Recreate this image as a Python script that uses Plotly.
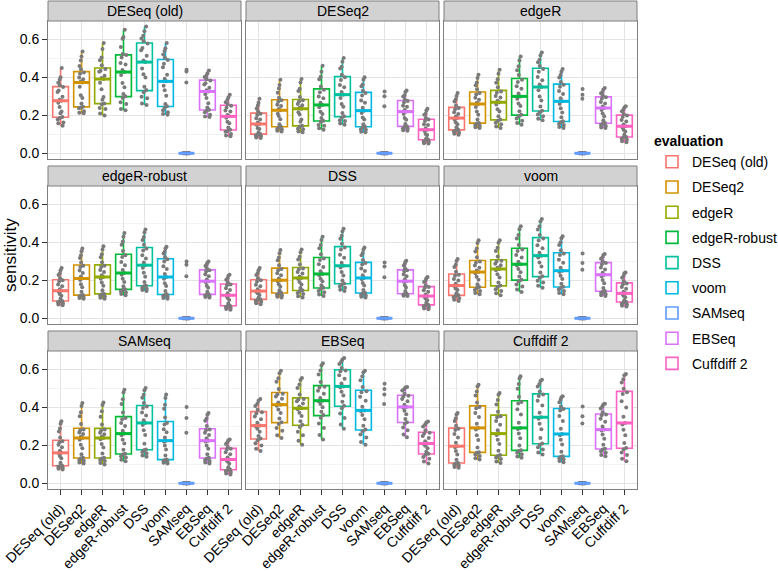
import plotly.graph_objects as go
import numpy as np

methods = ["DESeq (old)", "DESeq2", "edgeR", "edgeR-robust", "DSS", "voom", "SAMseq", "EBSeq", "Cuffdiff 2"]
colors = ["#F8766D", "#D39200", "#93AA00", "#00BA38", "#00C19F", "#00B9E3", "#619CFF", "#DB72FB", "#FF61C3"]
panel_titles = ["DESeq (old)", "DESeq2", "edgeR", "edgeR-robust", "DSS", "voom", "SAMseq", "EBSeq", "Cuffdiff 2"]
y_ticks = [0.0, 0.2, 0.4, 0.6]
y_minor = [0.1, 0.3, 0.5]

# sensitivity values per panel (evaluation dataset), one list per method
deseq_old = [
    [0.145, 0.158, 0.162, 0.177, 0.186, 0.190, 0.211, 0.219, 0.243, 0.266, 0.276, 0.281, 0.297, 0.322, 0.330, 0.348, 0.357, 0.371, 0.386, 0.399, 0.448],
    [0.210, 0.213, 0.221, 0.236, 0.240, 0.245, 0.262, 0.291, 0.305, 0.349, 0.372, 0.377, 0.389, 0.398, 0.418, 0.425, 0.441, 0.459, 0.487, 0.508, 0.535],
    [0.198, 0.209, 0.233, 0.238, 0.257, 0.262, 0.281, 0.296, 0.337, 0.371, 0.390, 0.396, 0.408, 0.429, 0.434, 0.443, 0.462, 0.489, 0.503, 0.548, 0.580],
    [0.226, 0.233, 0.259, 0.268, 0.291, 0.300, 0.311, 0.347, 0.369, 0.411, 0.427, 0.438, 0.466, 0.474, 0.503, 0.516, 0.521, 0.559, 0.602, 0.611, 0.649],
    [0.254, 0.262, 0.289, 0.297, 0.321, 0.332, 0.349, 0.398, 0.415, 0.446, 0.479, 0.488, 0.512, 0.541, 0.553, 0.577, 0.588, 0.603, 0.618, 0.641, 0.666],
    [0.203, 0.207, 0.215, 0.226, 0.241, 0.247, 0.259, 0.302, 0.331, 0.355, 0.378, 0.392, 0.413, 0.452, 0.471, 0.490, 0.502, 0.519, 0.537, 0.552, 0.579],
    [0, 0, 0, 0, 0, 0, 0, 0, 0, 0, 0, 0, 0, 0, 0, 0, 0, 0, 0.372, 0.430, 0.439],
    [0.190, 0.193, 0.202, 0.216, 0.224, 0.229, 0.241, 0.263, 0.291, 0.310, 0.325, 0.331, 0.344, 0.362, 0.368, 0.383, 0.389, 0.401, 0.408, 0.419, 0.435],
    [0.089, 0.094, 0.101, 0.113, 0.117, 0.124, 0.135, 0.158, 0.166, 0.187, 0.194, 0.201, 0.219, 0.225, 0.241, 0.250, 0.259, 0.268, 0.281, 0.293, 0.308],
]
deseq2 = [
    [0.080, 0.083, 0.091, 0.094, 0.099, 0.101, 0.109, 0.127, 0.131, 0.148, 0.154, 0.162, 0.178, 0.184, 0.201, 0.208, 0.219, 0.235, 0.251, 0.266, 0.287],
    [0.115, 0.118, 0.126, 0.128, 0.137, 0.140, 0.152, 0.179, 0.196, 0.208, 0.226, 0.233, 0.249, 0.255, 0.271, 0.278, 0.292, 0.318, 0.341, 0.359, 0.387],
    [0.110, 0.114, 0.126, 0.129, 0.141, 0.145, 0.166, 0.178, 0.204, 0.215, 0.234, 0.239, 0.253, 0.259, 0.272, 0.278, 0.296, 0.327, 0.339, 0.372, 0.390],
    [0.124, 0.131, 0.145, 0.149, 0.166, 0.171, 0.185, 0.207, 0.218, 0.242, 0.254, 0.266, 0.289, 0.298, 0.321, 0.334, 0.351, 0.389, 0.402, 0.428, 0.460],
    [0.150, 0.156, 0.169, 0.173, 0.188, 0.194, 0.212, 0.245, 0.259, 0.291, 0.308, 0.322, 0.347, 0.359, 0.385, 0.400, 0.412, 0.446, 0.455, 0.481, 0.500],
    [0.110, 0.113, 0.124, 0.126, 0.137, 0.140, 0.153, 0.178, 0.188, 0.212, 0.224, 0.239, 0.266, 0.277, 0.303, 0.317, 0.329, 0.352, 0.361, 0.386, 0.399],
    [0, 0, 0, 0, 0, 0, 0, 0, 0, 0, 0, 0, 0, 0, 0, 0, 0, 0, 0.247, 0.300, 0.325],
    [0.119, 0.121, 0.130, 0.131, 0.139, 0.142, 0.154, 0.176, 0.185, 0.207, 0.219, 0.227, 0.244, 0.250, 0.267, 0.275, 0.283, 0.299, 0.305, 0.322, 0.330],
    [0.051, 0.053, 0.061, 0.062, 0.070, 0.072, 0.079, 0.096, 0.101, 0.117, 0.124, 0.131, 0.149, 0.153, 0.169, 0.177, 0.185, 0.203, 0.208, 0.225, 0.234],
]
edger = [
    [0.098, 0.102, 0.109, 0.114, 0.121, 0.124, 0.137, 0.152, 0.163, 0.178, 0.185, 0.193, 0.207, 0.216, 0.231, 0.238, 0.251, 0.272, 0.284, 0.301, 0.317],
    [0.133, 0.137, 0.145, 0.149, 0.156, 0.159, 0.177, 0.202, 0.219, 0.243, 0.259, 0.266, 0.281, 0.292, 0.309, 0.317, 0.336, 0.358, 0.372, 0.396, 0.413],
    [0.133, 0.141, 0.152, 0.160, 0.171, 0.177, 0.194, 0.219, 0.232, 0.256, 0.268, 0.276, 0.293, 0.301, 0.318, 0.325, 0.347, 0.371, 0.389, 0.418, 0.439],
    [0.150, 0.159, 0.171, 0.183, 0.194, 0.203, 0.221, 0.248, 0.262, 0.286, 0.299, 0.314, 0.339, 0.352, 0.374, 0.387, 0.411, 0.436, 0.457, 0.488, 0.509],
    [0.173, 0.181, 0.194, 0.204, 0.216, 0.224, 0.246, 0.277, 0.298, 0.331, 0.348, 0.362, 0.384, 0.401, 0.428, 0.443, 0.459, 0.478, 0.492, 0.514, 0.530],
    [0.133, 0.138, 0.148, 0.154, 0.163, 0.168, 0.189, 0.214, 0.236, 0.259, 0.273, 0.289, 0.311, 0.327, 0.349, 0.360, 0.374, 0.398, 0.411, 0.429, 0.443],
    [0, 0, 0, 0, 0, 0, 0, 0, 0, 0, 0, 0, 0, 0, 0, 0, 0, 0, 0.287, 0.308, 0.338],
    [0.133, 0.136, 0.144, 0.148, 0.155, 0.159, 0.173, 0.194, 0.209, 0.227, 0.238, 0.246, 0.261, 0.270, 0.286, 0.294, 0.303, 0.316, 0.322, 0.335, 0.343],
    [0.058, 0.063, 0.071, 0.076, 0.083, 0.086, 0.098, 0.115, 0.124, 0.137, 0.142, 0.151, 0.167, 0.175, 0.191, 0.198, 0.207, 0.221, 0.229, 0.240, 0.247],
]
edger_robust = [
    [0.069, 0.073, 0.079, 0.084, 0.089, 0.091, 0.103, 0.119, 0.128, 0.140, 0.145, 0.153, 0.168, 0.177, 0.193, 0.200, 0.211, 0.227, 0.236, 0.252, 0.264],
    [0.103, 0.106, 0.112, 0.115, 0.120, 0.122, 0.139, 0.163, 0.179, 0.201, 0.209, 0.219, 0.238, 0.251, 0.269, 0.276, 0.293, 0.317, 0.331, 0.352, 0.367],
    [0.103, 0.108, 0.116, 0.120, 0.126, 0.129, 0.147, 0.171, 0.188, 0.208, 0.217, 0.226, 0.243, 0.254, 0.269, 0.276, 0.295, 0.321, 0.337, 0.361, 0.379],
    [0.121, 0.127, 0.136, 0.142, 0.149, 0.153, 0.168, 0.191, 0.208, 0.229, 0.238, 0.254, 0.279, 0.296, 0.322, 0.331, 0.354, 0.386, 0.403, 0.429, 0.448],
    [0.143, 0.148, 0.155, 0.161, 0.168, 0.172, 0.191, 0.218, 0.239, 0.266, 0.279, 0.293, 0.314, 0.331, 0.356, 0.367, 0.386, 0.411, 0.427, 0.451, 0.466],
    [0.103, 0.107, 0.114, 0.118, 0.123, 0.126, 0.143, 0.169, 0.184, 0.208, 0.217, 0.233, 0.259, 0.274, 0.299, 0.310, 0.322, 0.341, 0.349, 0.366, 0.376],
    [0, 0, 0, 0, 0, 0, 0, 0, 0, 0, 0, 0, 0, 0, 0, 0, 0, 0, 0.221, 0.281, 0.298],
    [0.109, 0.112, 0.117, 0.120, 0.124, 0.126, 0.139, 0.160, 0.171, 0.189, 0.195, 0.204, 0.221, 0.231, 0.246, 0.252, 0.261, 0.275, 0.282, 0.292, 0.298],
    [0.045, 0.049, 0.056, 0.059, 0.064, 0.066, 0.078, 0.096, 0.106, 0.117, 0.121, 0.131, 0.148, 0.158, 0.173, 0.178, 0.188, 0.203, 0.211, 0.223, 0.229],
]
dss = [
    [0.074, 0.079, 0.087, 0.091, 0.097, 0.100, 0.108, 0.122, 0.131, 0.140, 0.143, 0.152, 0.168, 0.176, 0.193, 0.200, 0.211, 0.228, 0.238, 0.253, 0.264],
    [0.109, 0.113, 0.121, 0.124, 0.131, 0.134, 0.147, 0.166, 0.179, 0.194, 0.200, 0.209, 0.226, 0.236, 0.252, 0.259, 0.278, 0.305, 0.319, 0.342, 0.359],
    [0.109, 0.116, 0.127, 0.133, 0.142, 0.147, 0.159, 0.178, 0.191, 0.206, 0.212, 0.219, 0.235, 0.243, 0.257, 0.262, 0.282, 0.309, 0.323, 0.347, 0.362],
    [0.117, 0.125, 0.137, 0.144, 0.155, 0.160, 0.173, 0.194, 0.208, 0.226, 0.233, 0.247, 0.270, 0.284, 0.306, 0.314, 0.337, 0.368, 0.385, 0.411, 0.428],
    [0.143, 0.150, 0.161, 0.168, 0.178, 0.183, 0.199, 0.225, 0.243, 0.267, 0.276, 0.292, 0.318, 0.334, 0.361, 0.372, 0.391, 0.418, 0.433, 0.456, 0.471],
    [0.109, 0.113, 0.120, 0.124, 0.131, 0.134, 0.149, 0.172, 0.186, 0.205, 0.212, 0.226, 0.248, 0.262, 0.283, 0.290, 0.306, 0.331, 0.343, 0.362, 0.372],
    [0, 0, 0, 0, 0, 0, 0, 0, 0, 0, 0, 0, 0, 0, 0, 0, 0, 0, 0.216, 0.272, 0.293],
    [0.117, 0.119, 0.123, 0.125, 0.128, 0.129, 0.143, 0.162, 0.174, 0.190, 0.195, 0.205, 0.221, 0.232, 0.247, 0.252, 0.262, 0.277, 0.286, 0.297, 0.302],
    [0.048, 0.052, 0.059, 0.063, 0.069, 0.071, 0.081, 0.095, 0.104, 0.114, 0.117, 0.125, 0.139, 0.147, 0.160, 0.164, 0.174, 0.190, 0.199, 0.211, 0.217],
]
voom = [
    [0.091, 0.097, 0.105, 0.111, 0.118, 0.121, 0.131, 0.148, 0.157, 0.169, 0.172, 0.181, 0.198, 0.207, 0.223, 0.229, 0.245, 0.269, 0.281, 0.301, 0.312],
    [0.126, 0.133, 0.143, 0.149, 0.159, 0.164, 0.179, 0.203, 0.218, 0.237, 0.243, 0.251, 0.266, 0.277, 0.292, 0.298, 0.321, 0.351, 0.367, 0.396, 0.410],
    [0.121, 0.131, 0.144, 0.153, 0.166, 0.172, 0.188, 0.214, 0.231, 0.252, 0.259, 0.266, 0.278, 0.286, 0.298, 0.302, 0.325, 0.353, 0.371, 0.397, 0.410],
    [0.138, 0.151, 0.167, 0.178, 0.194, 0.203, 0.219, 0.242, 0.259, 0.277, 0.284, 0.297, 0.319, 0.333, 0.354, 0.362, 0.385, 0.419, 0.437, 0.468, 0.483],
    [0.160, 0.171, 0.188, 0.197, 0.213, 0.221, 0.241, 0.272, 0.293, 0.319, 0.329, 0.344, 0.368, 0.384, 0.409, 0.419, 0.438, 0.466, 0.483, 0.508, 0.522],
    [0.126, 0.133, 0.144, 0.151, 0.161, 0.166, 0.181, 0.206, 0.223, 0.243, 0.250, 0.266, 0.292, 0.308, 0.332, 0.340, 0.358, 0.385, 0.399, 0.421, 0.431],
    [0, 0, 0, 0, 0, 0, 0, 0, 0, 0, 0, 0, 0, 0, 0, 0, 0, 0, 0.255, 0.290, 0.341],
    [0.117, 0.121, 0.128, 0.133, 0.140, 0.143, 0.159, 0.184, 0.201, 0.221, 0.229, 0.239, 0.256, 0.267, 0.283, 0.290, 0.299, 0.313, 0.321, 0.333, 0.338],
    [0.062, 0.066, 0.073, 0.077, 0.083, 0.086, 0.095, 0.110, 0.118, 0.128, 0.131, 0.140, 0.155, 0.165, 0.178, 0.183, 0.195, 0.213, 0.222, 0.236, 0.241],
]
samseq = [
    [0.072, 0.076, 0.083, 0.087, 0.091, 0.093, 0.108, 0.131, 0.144, 0.156, 0.160, 0.171, 0.189, 0.202, 0.216, 0.221, 0.241, 0.272, 0.288, 0.313, 0.326],
    [0.104, 0.109, 0.118, 0.123, 0.131, 0.134, 0.153, 0.184, 0.203, 0.229, 0.238, 0.245, 0.259, 0.267, 0.279, 0.282, 0.311, 0.352, 0.373, 0.406, 0.422],
    [0.099, 0.106, 0.117, 0.122, 0.130, 0.134, 0.156, 0.188, 0.207, 0.231, 0.238, 0.244, 0.257, 0.266, 0.277, 0.282, 0.309, 0.349, 0.378, 0.411, 0.425],
    [0.116, 0.124, 0.136, 0.142, 0.151, 0.155, 0.176, 0.209, 0.229, 0.253, 0.261, 0.276, 0.301, 0.317, 0.337, 0.343, 0.372, 0.417, 0.441, 0.477, 0.492],
    [0.139, 0.146, 0.158, 0.165, 0.173, 0.177, 0.208, 0.254, 0.279, 0.306, 0.317, 0.331, 0.356, 0.372, 0.396, 0.404, 0.422, 0.449, 0.465, 0.489, 0.500],
    [0.104, 0.108, 0.114, 0.118, 0.123, 0.125, 0.146, 0.178, 0.198, 0.218, 0.224, 0.241, 0.268, 0.284, 0.309, 0.317, 0.346, 0.391, 0.412, 0.448, 0.466],
    [0, 0, 0, 0, 0, 0, 0, 0, 0, 0, 0, 0, 0, 0, 0, 0, 0, 0, 0.265, 0.343, 0.401],
    [0.104, 0.109, 0.117, 0.122, 0.130, 0.134, 0.153, 0.182, 0.199, 0.219, 0.224, 0.236, 0.254, 0.265, 0.278, 0.282, 0.301, 0.329, 0.341, 0.360, 0.369],
    [0.046, 0.051, 0.059, 0.064, 0.070, 0.072, 0.084, 0.103, 0.114, 0.122, 0.125, 0.136, 0.152, 0.163, 0.177, 0.181, 0.191, 0.207, 0.215, 0.226, 0.230],
]
ebseq = [
    [0.169, 0.181, 0.199, 0.211, 0.226, 0.235, 0.249, 0.271, 0.286, 0.299, 0.303, 0.318, 0.337, 0.351, 0.367, 0.373, 0.387, 0.406, 0.418, 0.434, 0.443],
    [0.238, 0.253, 0.276, 0.291, 0.311, 0.321, 0.341, 0.369, 0.388, 0.407, 0.413, 0.425, 0.444, 0.456, 0.468, 0.471, 0.496, 0.533, 0.552, 0.578, 0.591],
    [0.203, 0.223, 0.252, 0.271, 0.296, 0.308, 0.326, 0.353, 0.371, 0.389, 0.394, 0.404, 0.419, 0.431, 0.440, 0.443, 0.466, 0.501, 0.519, 0.542, 0.553],
    [0.230, 0.254, 0.291, 0.314, 0.344, 0.359, 0.376, 0.399, 0.416, 0.431, 0.434, 0.448, 0.471, 0.486, 0.503, 0.507, 0.532, 0.571, 0.592, 0.619, 0.631],
    [0.286, 0.309, 0.343, 0.366, 0.394, 0.408, 0.428, 0.461, 0.481, 0.503, 0.509, 0.524, 0.549, 0.567, 0.588, 0.593, 0.606, 0.627, 0.638, 0.651, 0.658],
    [0.203, 0.217, 0.241, 0.256, 0.273, 0.282, 0.302, 0.337, 0.359, 0.378, 0.383, 0.402, 0.433, 0.454, 0.478, 0.483, 0.506, 0.541, 0.562, 0.584, 0.591],
    [0, 0, 0, 0, 0, 0, 0, 0, 0, 0, 0, 0, 0, 0, 0, 0, 0, 0.417, 0.466, 0.495, 0.523],
    [0.242, 0.256, 0.278, 0.293, 0.313, 0.321, 0.338, 0.363, 0.381, 0.397, 0.401, 0.413, 0.431, 0.443, 0.456, 0.460, 0.471, 0.487, 0.494, 0.503, 0.506],
    [0.104, 0.114, 0.129, 0.138, 0.150, 0.155, 0.166, 0.184, 0.197, 0.206, 0.209, 0.221, 0.238, 0.249, 0.262, 0.265, 0.278, 0.298, 0.309, 0.320, 0.324],
]
cuffdiff2 = [
    [0.081, 0.086, 0.094, 0.099, 0.104, 0.107, 0.124, 0.151, 0.169, 0.189, 0.195, 0.213, 0.241, 0.259, 0.280, 0.286, 0.302, 0.327, 0.342, 0.361, 0.369],
    [0.125, 0.132, 0.144, 0.151, 0.160, 0.163, 0.188, 0.228, 0.253, 0.282, 0.291, 0.313, 0.348, 0.369, 0.394, 0.401, 0.424, 0.461, 0.482, 0.509, 0.518],
    [0.107, 0.115, 0.128, 0.135, 0.144, 0.148, 0.171, 0.206, 0.229, 0.254, 0.261, 0.279, 0.308, 0.327, 0.347, 0.352, 0.376, 0.414, 0.437, 0.465, 0.474],
    [0.134, 0.141, 0.153, 0.161, 0.170, 0.174, 0.198, 0.237, 0.261, 0.285, 0.291, 0.318, 0.361, 0.389, 0.419, 0.427, 0.455, 0.497, 0.521, 0.551, 0.562],
    [0.151, 0.162, 0.178, 0.189, 0.203, 0.209, 0.238, 0.284, 0.313, 0.339, 0.347, 0.371, 0.409, 0.433, 0.459, 0.466, 0.482, 0.508, 0.522, 0.538, 0.544],
    [0.111, 0.117, 0.126, 0.132, 0.139, 0.142, 0.166, 0.204, 0.229, 0.253, 0.259, 0.286, 0.327, 0.353, 0.382, 0.390, 0.403, 0.426, 0.439, 0.452, 0.457],
    [0, 0, 0, 0, 0, 0, 0, 0, 0, 0, 0, 0, 0, 0, 0, 0, 0, 0, 0.314, 0.352, 0.404],
    [0.142, 0.149, 0.161, 0.168, 0.177, 0.181, 0.202, 0.234, 0.256, 0.277, 0.282, 0.298, 0.323, 0.339, 0.357, 0.361, 0.373, 0.393, 0.403, 0.414, 0.418],
    [0.116, 0.129, 0.149, 0.162, 0.179, 0.186, 0.212, 0.253, 0.281, 0.309, 0.317, 0.349, 0.398, 0.431, 0.469, 0.478, 0.497, 0.529, 0.547, 0.568, 0.574],
]
panel_values = [deseq_old, deseq2, edger, edger_robust, dss, voom, samseq, ebseq, cuffdiff2]

# ---------------- layout geometry (pixels) ----------------
W, H = 778, 571
col_left = [48, 246, 444]
panel_w = 193
row_top = [21, 186, 351]
panel_h = 138
strip_h = 20
FONT = "Liberation Sans, Arial, Helvetica, sans-serif"

fig = go.Figure()
shapes = []
annotations = []
layout_axes = {}

for k, vals in enumerate(panel_values):
    r, c = divmod(k, 3)
    sfx = "" if k == 0 else str(k + 1)
    xa, ya = "x" + sfx, "y" + sfx
    for i, m in enumerate(methods):
        fig.add_trace(go.Box(
            x=[i] * len(vals[i]), y=vals[i], xaxis=xa, yaxis=ya,
            name=m, legendgroup=m, showlegend=(k == 0),
            line=dict(color=colors[i], width=1.6), fillcolor="white",
            boxpoints="all", jitter=0.5, pointpos=0, width=0.75, whiskerwidth=0,
            marker=dict(color="#7A7A7A", size=4, line=dict(width=0)),
            hoverinfo="skip",
        ))
        med = float(np.median(vals[i]))
        shapes.append(dict(type="line", xref=xa, yref=ya, x0=i - 0.375, x1=i + 0.375,
                           y0=med, y1=med, line=dict(color=colors[i], width=3), layer="above"))
    x0p = col_left[c] / W
    x1p = (col_left[c] + panel_w) / W
    y1p = 1 - row_top[r] / H
    y0p = 1 - (row_top[r] + panel_h) / H
    layout_axes["xaxis" + sfx] = dict(
        domain=[x0p, x1p], anchor=ya, range=[-0.6, 8.6], automargin=False,
        tickvals=list(range(len(methods))), ticktext=methods,
        showticklabels=(r == 2), ticks="outside" if r == 2 else "", ticklen=5,
        tickcolor="#333333", tickangle=-45,
        tickfont=dict(family=FONT, size=14, color="black"),
        showgrid=True, gridcolor="#E3E3E3", gridwidth=1, zeroline=False,
        showline=True, mirror=True, linecolor="#7F7F7F", linewidth=1,
    )
    layout_axes["yaxis" + sfx] = dict(
        domain=[y0p, y1p], anchor=xa, range=[-0.03, 0.695], automargin=False,
        tickvals=y_ticks, tickformat=".1f",
        showticklabels=(c == 0), ticks="outside" if c == 0 else "", ticklen=5,
        tickcolor="#333333", tickfont=dict(family=FONT, size=14, color="black"),
        showgrid=True, gridcolor="#E3E3E3", gridwidth=1, zeroline=False,
        minor=dict(tickvals=y_minor, showgrid=True, gridcolor="#F3F3F3", ticks=""),
        showline=True, mirror=True, linecolor="#7F7F7F", linewidth=1,
    )
    # strip header
    sy0 = y1p
    sy1 = 1 - (row_top[r] - strip_h) / H
    shapes.append(dict(type="rect", xref="paper", yref="paper", x0=x0p, x1=x1p, y0=sy0, y1=sy1,
                       fillcolor="#D2D2D2", line=dict(color="#7F7F7F", width=1), layer="above"))
    annotations.append(dict(text=panel_titles[k], xref="paper", yref="paper",
                            x=(x0p + x1p) / 2, y=(sy0 + sy1) / 2, showarrow=False,
                            xanchor="center", yanchor="middle",
                            font=dict(family=FONT, size=14, color="black")))

annotations.append(dict(text="sensitivity", xref="paper", yref="paper", x=10 / W, y=1 - 255 / H,
                        textangle=-90, showarrow=False, xanchor="center", yanchor="middle",
                        font=dict(family=FONT, size=17, color="black")))

fig.update_layout(
    width=W, height=H, margin=dict(l=0, r=0, t=0, b=0, autoexpand=False),
    paper_bgcolor="white", plot_bgcolor="white",
    boxmode="overlay",
    font=dict(family=FONT, size=14, color="black"),
    shapes=shapes, annotations=annotations,
    legend=dict(x=652 / W, y=1 - 128 / H, xanchor="left", yanchor="top",
                title=dict(text="<b>evaluation</b>", font=dict(family=FONT, size=14)),
                font=dict(family=FONT, size=14), tracegroupgap=4,
                bgcolor="rgba(0,0,0,0)"),
    **layout_axes,
)

fig.write_html("out.html")
